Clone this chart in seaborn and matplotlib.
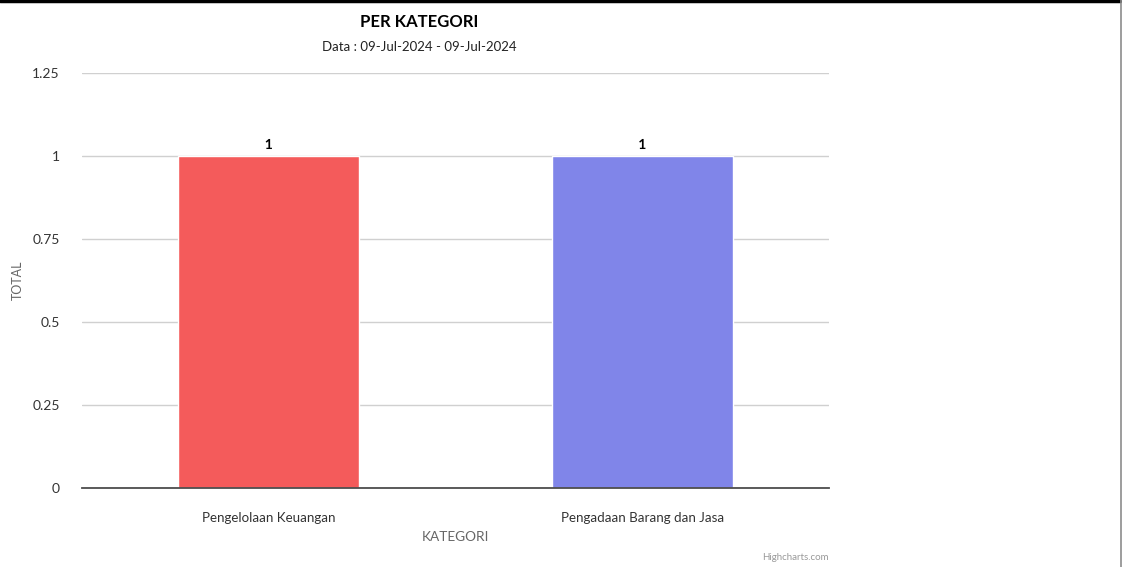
import matplotlib
matplotlib.use("Agg")
import matplotlib.pyplot as plt
import matplotlib.patheffects as pe
from matplotlib.lines import Line2D
import seaborn as sns
import pandas as pd

categories = ["Pengelolaan Keuangan", "Pengadaan Barang dan Jasa"]
totals = [1, 1]
colors = ["#f45b5b", "#8085e9"]
y_ticks = [0, 0.25, 0.5, 0.75, 1, 1.25]
y_tick_labels = ["0", "0.25", "0.5", "0.75", "1", "1.25"]

sns.set_theme(style="white")
plt.rcParams["font.family"] = ["Lato", "DejaVu Sans"]

W, H = 1122, 567
fig = plt.figure(figsize=(W / 100, H / 100), dpi=100)
fig.patch.set_facecolor("white")

left, right, top, bottom = 82, 829, 73, 488
ax = fig.add_axes([left / W, 1 - bottom / H, (right - left) / W, (bottom - top) / H])

df = pd.DataFrame({"KATEGORI": categories, "TOTAL": totals})
sns.barplot(data=df, x="KATEGORI", y="TOTAL", hue="KATEGORI", palette=colors,
            width=0.485, legend=False, ax=ax, zorder=3, saturation=1)

ax.set_xlim(-0.5, len(categories) - 0.5)
ax.set_ylim(0, 1.25)
ax.set_yticks(y_ticks)
ax.set_yticklabels(y_tick_labels)
ax.yaxis.grid(True, color="#d0d0d0", linewidth=1, zorder=0)
for s in ["top", "right", "left"]:
    ax.spines[s].set_visible(False)
ax.spines["bottom"].set_color("#4d4d4d")
ax.spines["bottom"].set_linewidth(1.3)
ax.spines["bottom"].set_zorder(4)
ax.tick_params(axis="y", length=0, pad=16, labelsize=10, labelcolor="#333333")
ax.tick_params(axis="x", length=0, pad=17, labelsize=9.6, labelcolor="#333333")
ax.set_xlabel("KATEGORI", fontsize=9.8, color="#666666", labelpad=5)
ax.set_ylabel("TOTAL", fontsize=9, color="#666666")
ax.yaxis.set_label_coords((24 - left) / (right - left), 0.5)

# value labels above bars
for i, v in enumerate(totals):
    ax.text(i, v + 0.015, f"{v}", ha="center", va="bottom", fontsize=10,
            fontweight="bold", color="black",
            path_effects=[pe.withStroke(linewidth=2.5, foreground="white")], zorder=5)

fig.text(419 / W, 1 - 22 / H, "PER KATEGORI", ha="center", va="center",
         fontsize=12, fontweight="bold", color="black")
fig.text(419 / W, 1 - 47 / H, "Data : 09-Jul-2024 - 09-Jul-2024", ha="center",
         va="center", fontsize=9.5, color="#222222")
fig.text(829 / W, 1 - 558 / H, "Highcharts.com", ha="right", va="center",
         fontsize=7, color="#999999")

# frame edges
fig.add_artist(Line2D([0, 1120 / W], [1 - 1 / H, 1 - 1 / H], color="black", linewidth=2.5,
                      transform=fig.transFigure))
fig.add_artist(Line2D([1120.5 / W, 1120.5 / W], [0, 1], color="#8c8c8c", linewidth=1.2,
                      transform=fig.transFigure))

fig.savefig("out.png", dpi=100)
